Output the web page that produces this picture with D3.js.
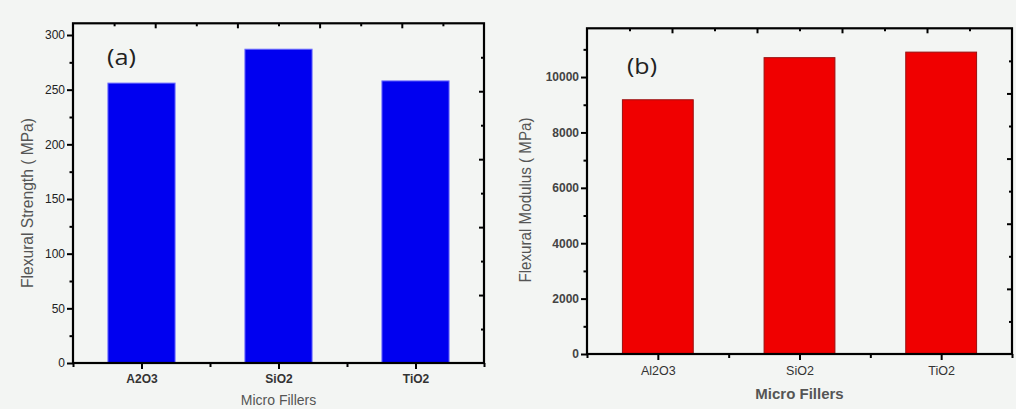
<!DOCTYPE html>
<html><head><meta charset="utf-8">
<script src="https://cdn.jsdelivr.net/npm/d3@7"></script>
<style>
html,body{margin:0;padding:0;background:#f3f5f3;}
svg{display:block;}
text{font-family:"Liberation Sans",Arial,sans-serif;}
</style></head>
<body>
<svg id="chart" width="1016" height="409"></svg>
<script>
// ---- data ----
const categoriesA = ["A2O3", "SiO2", "TiO2"];
const strengthValues = [256, 287, 258];
const yTicksA = [0, 50, 100, 150, 200, 250, 300];
const categoriesB = ["Al2O3", "SiO2", "TiO2"];
const modulusValues = [9180, 10700, 10900];
const yTicksB = [0, 2000, 4000, 6000, 8000, 10000];

const svg = d3.select("#chart");
svg.append("rect").attr("width",1016).attr("height",409).attr("fill","#f3f5f3");

function panel(o) {
  const g = svg.append("g");
  const x = d3.scaleLinear().domain([0.5, 3.5]).range([o.left, o.right]);
  const y = d3.scaleLinear().domain([0, o.yMax]).range([o.bottom, o.top]);
  const mirrorX = d3.scaleLinear().domain([0, 1]).range([o.left, o.right]);
  const mirrorY = d3.scaleLinear().domain([0, 1]).range([o.bottom, o.top]);

  // bars
  g.selectAll("rect.bar").data(o.values).join("rect")
    .attr("class","bar")
    .attr("x", (d,i) => x(i + 1 - o.barW/2))
    .attr("width", x(1 + o.barW/2) - x(1 - o.barW/2))
    .attr("y", d => y(d))
    .attr("height", d => y(0) - y(d))
    .attr("fill", o.color)
    .attr("stroke", o.edge).attr("stroke-width", 1);

  // frame
  g.append("rect").attr("x", o.left).attr("y", o.top)
    .attr("width", o.right - o.left).attr("height", o.bottom - o.top)
    .attr("fill","none").attr("stroke","#000").attr("stroke-width",2.2);

  const styleAxis = (sel) => {
    sel.select(".domain").remove();
    sel.selectAll(".tick line").attr("stroke","#000").attr("stroke-width",2);
  };

  // left axis major
  const minorStep = o.yTicks[1] / 2;
  const minorY = d3.range(minorStep, o.yMax, minorStep * 2);
  g.append("g").attr("transform",`translate(${o.left},0)`)
    .call(d3.axisLeft(y).tickValues(o.yTicks).tickSize(6).tickPadding(2).tickFormat(d3.format("d")))
    .call(styleAxis)
    .call(s => s.selectAll("text").attr("fill",o.tickColor).attr("font-size", o.tickFont).attr("font-weight", o.tickWeight));
  g.append("g").attr("transform",`translate(${o.left},0)`)
    .call(d3.axisLeft(y).tickValues(minorY).tickSize(3.5).tickFormat(""))
    .call(styleAxis);

  // bottom axis
  g.append("g").attr("transform",`translate(0,${o.bottom})`)
    .call(d3.axisBottom(x).tickValues([1,2,3]).tickSize(6).tickPadding(o.xPad).tickFormat((d,i) => o.cats[i]))
    .call(styleAxis)
    .call(s => s.selectAll("text").attr("fill","#333").attr("font-size", o.catFont).attr("font-weight", o.catWeight));
  g.append("g").attr("transform",`translate(0,${o.bottom})`)
    .call(d3.axisBottom(x).tickValues([0.5,1.5,2.5,3.5]).tickSize(4).tickFormat(""))
    .call(styleAxis);

  // top mirror axis (inward)
  const tenths = d3.range(1, 10).map(d => d / 10);
  g.append("g").attr("transform",`translate(0,${o.top})`)
    .call(d3.axisBottom(mirrorX).tickValues(tenths.filter((d,i)=>i%2===1)).tickSize(5).tickFormat(""))
    .call(styleAxis);
  g.append("g").attr("transform",`translate(0,${o.top})`)
    .call(d3.axisBottom(mirrorX).tickValues(tenths.filter((d,i)=>i%2===0)).tickSize(3).tickFormat(""))
    .call(styleAxis);
  // right mirror axis (inward)
  g.append("g").attr("transform",`translate(${o.right},0)`)
    .call(d3.axisLeft(mirrorY).tickValues(tenths.filter((d,i)=>i%2===1)).tickSize(5).tickFormat(""))
    .call(styleAxis);
  g.append("g").attr("transform",`translate(${o.right},0)`)
    .call(d3.axisLeft(mirrorY).tickValues(tenths.filter((d,i)=>i%2===0)).tickSize(3).tickFormat(""))
    .call(styleAxis);

  // y title
  g.append("text")
    .attr("transform",`translate(${o.yTitleX},${o.yTitleY}) rotate(-90)`)
    .attr("text-anchor","middle").attr("dominant-baseline","central")
    .attr("fill","#555").attr("font-size",o.yTitleFont)
    .attr("textLength",o.yTitleLen).attr("lengthAdjust","spacingAndGlyphs")
    .text(o.yTitle);
  // x title
  g.append("text")
    .attr("x",(o.left+o.right)/2).attr("y",o.xTitleY)
    .attr("text-anchor","middle").attr("dominant-baseline","central")
    .attr("fill","#555").attr("font-size",o.xTitleFont).attr("font-weight",o.xTitleWeight)
    .text("Micro Fillers");
  // panel label
  g.append("text")
    .attr("x",o.labX).attr("y",o.labY)
    .attr("dominant-baseline","central")
    .attr("fill","#222").attr("font-size",o.labFont)
    .attr("textLength",o.labLen).attr("lengthAdjust","spacingAndGlyphs")
    .style("font-family",'"Open Sans",sans-serif')
    .text(o.label);
}

panel({
  left:73, right:484, top:23.3, bottom:363, yMax:310.7,
  values:strengthValues, cats:categoriesA, yTicks:yTicksA, barW:0.49,
  color:"#0000f0", edge:"#6a6aff",
  tickFont:"12px", tickWeight:"normal", tickColor:"#222", catFont:"12px", catWeight:"bold", xPad:5,
  yTitle:"Flexural Strength ( MPa)", yTitleX:27, yTitleY:203, yTitleFont:"16px", yTitleLen:170,
  xTitleY:400, xTitleFont:"14px", xTitleWeight:"normal",
  label:"(a)", labX:107, labY:57, labFont:"21px", labLen:29
});
panel({
  left:587, right:1012, top:28.3, bottom:354, yMax:11760,
  values:modulusValues, cats:categoriesB, yTicks:yTicksB, barW:0.5,
  color:"#f00000", edge:"#9a1010",
  tickFont:"12px", tickWeight:"bold", tickColor:"#444", catFont:"12.5px", catWeight:"normal", xPad:6,
  yTitle:"Flexural Modulus ( MPa)", yTitleX:525, yTitleY:200, yTitleFont:"16px", yTitleLen:165,
  xTitleY:393, xTitleFont:"15px", xTitleWeight:"bold",
  label:"(b)", labX:627, labY:65, labFont:"22px", labLen:30
});
</script>
</body></html>
